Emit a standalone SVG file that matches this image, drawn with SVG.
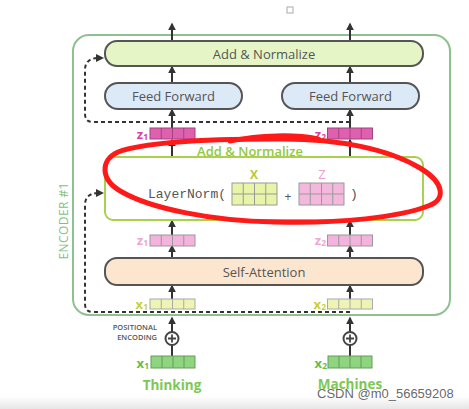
<svg xmlns="http://www.w3.org/2000/svg" width="469" height="409" viewBox="0 0 469 409">
<defs>
<marker id="ah" viewBox="0 0 10 10" refX="8" refY="5" markerWidth="4" markerHeight="4" orient="auto" markerUnits="strokeWidth">
<path d="M0,0 L10,5 L0,10 Z" fill="#333"/>
</marker>
<linearGradient id="bot" x1="0" y1="0" x2="0" y2="1"><stop offset="0" stop-color="#ffffff"/><stop offset="1" stop-color="#e6e6e6"/></linearGradient>
<style>
.box{stroke:#555;stroke-width:2}
.lbl{font-family:"Open Sans","Liberation Sans",sans-serif;font-size:13px;fill:#555;text-anchor:middle;dominant-baseline:central}
.arr{stroke:#333;stroke-width:2;fill:none;marker-end:url(#ah)}
.dash{stroke:#333;stroke-width:2;stroke-dasharray:4 3;fill:none}
.cell{stroke:#999;stroke-width:1}
.sub{font-family:"Open Sans","Liberation Sans",sans-serif;font-weight:700;font-size:13px;text-anchor:end;dominant-baseline:central}
.sub tspan{font-size:8.5px}
</style>
</defs>
<rect x="0" y="396" width="469" height="13" fill="url(#bot)"/>
<rect x="287" y="7" width="6" height="6" fill="none" stroke="#aaa" stroke-width="1"/>

<g id="encoder">
<rect x="73" y="35" width="377" height="280" rx="16" fill="none" stroke="#8fc08f" stroke-width="2"/>
<text transform="translate(63,221) rotate(-90)" text-anchor="middle" dominant-baseline="central" font-family="Open Sans, Liberation Sans, sans-serif" font-size="12" textLength="77" fill="#7fbf7f">ENCODER #1</text>
</g>

<g id="connectors">
<line class="arr" x1="172" y1="41" x2="172" y2="24"/>
<line class="arr" x1="350" y1="41" x2="350" y2="24"/>
<line class="arr" x1="172" y1="83" x2="172" y2="67"/>
<line class="arr" x1="350" y1="83" x2="350" y2="67"/>
<line class="arr" x1="172" y1="128" x2="172" y2="110"/>
<line class="arr" x1="350" y1="128" x2="350" y2="110"/>
<line class="arr" x1="172" y1="157" x2="172" y2="140"/>
<line class="arr" x1="350" y1="157" x2="350" y2="140"/>
<line class="arr" x1="172" y1="235" x2="172" y2="221"/>
<line class="arr" x1="350" y1="235" x2="350" y2="221"/>
<line class="arr" x1="172" y1="258" x2="172" y2="246"/>
<line class="arr" x1="350" y1="258" x2="350" y2="246"/>
<line class="arr" x1="172" y1="299" x2="172" y2="286"/>
<line class="arr" x1="350" y1="299" x2="350" y2="286"/>
<line class="arr" x1="172" y1="332" x2="172" y2="318"/>
<line class="arr" x1="350" y1="332" x2="350" y2="318"/>
<line x1="172" y1="356" x2="172" y2="345" stroke="#333" stroke-width="2"/>
<line x1="350" y1="356" x2="350" y2="345" stroke="#333" stroke-width="2"/>
<path class="dash" d="M350,122 H93 Q85,122 85,114 V70 Q85,59 97,58"/>
<path d="M96,54 L104,58 L96,62 Z" fill="#333"/>
<path class="dash" d="M350,312 H93 Q85,312 85,304 V205 Q85,194 97,193"/>
<path d="M96,189 L104,193 L96,197 Z" fill="#333"/>
</g>

<g id="add-norm-top">
<rect class="box" x="105" y="41" width="318" height="25" rx="12" fill="#e6f5c6"/>
<text class="lbl" x="264" y="53.5">Add &amp; Normalize</text>
</g>
<g id="ff1">
<rect class="box" x="105" y="83" width="137" height="26" rx="13" fill="#dce9f7"/>
<text class="lbl" x="173.5" y="96">Feed Forward</text>
</g>
<g id="ff2">
<rect class="box" x="282" y="83" width="137" height="26" rx="13" fill="#dce9f7"/>
<text class="lbl" x="350.5" y="96">Feed Forward</text>
</g>

<g id="z1-top">
<text class="sub" x="148" y="134" fill="#d8409f">z<tspan dy="2">1</tspan></text>
<rect x="150" y="128" width="45" height="11" fill="#e060b0" stroke="#a04480" stroke-width="1"/>
<path d="M161.25,128V139M172.5,128V139M183.75,128V139" stroke="#a04480" stroke-width="1"/>
</g>
<g id="z2-top">
<text class="sub" x="326" y="134" fill="#d8409f">z<tspan dy="2">2</tspan></text>
<rect x="327.5" y="128" width="45" height="11" fill="#e060b0" stroke="#a04480" stroke-width="1"/>
<path d="M338.75,128V139M350,128V139M361.25,128V139" stroke="#a04480" stroke-width="1"/>
</g>

<g id="add-norm-mid">
<text x="250" y="151" text-anchor="middle" dominant-baseline="central" font-family="Open Sans, Liberation Sans, sans-serif" font-weight="600" font-size="13" fill="#93c83e">Add &amp; Normalize</text>
<rect x="105" y="157" width="318" height="63" rx="8" fill="#fff" stroke="#a8d14e" stroke-width="2"/>
<text x="148" y="194" dominant-baseline="central" font-family="Liberation Mono, DejaVu Sans Mono, monospace" font-size="13" fill="#555">LayerNorm(</text>
<text x="254" y="174" text-anchor="middle" dominant-baseline="central" font-family="Open Sans, Liberation Sans, sans-serif" font-weight="700" font-size="12" fill="#b8c832">X</text>
<rect x="232" y="183" width="45" height="22" fill="#e8f5a8" stroke="#999" stroke-width="1"/>
<path class="cell" d="M243.25,183V205M254.5,183V205M265.75,183V205M232,194H277"/>
<text x="288" y="196" text-anchor="middle" dominant-baseline="central" font-family="Open Sans, Liberation Sans, sans-serif" font-size="12" fill="#555">+</text>
<text x="322" y="174" text-anchor="middle" dominant-baseline="central" font-family="Open Sans, Liberation Sans, sans-serif" font-size="13" fill="#eaa0cc">Z</text>
<rect x="299" y="183" width="45" height="22" fill="#f3b8dc" stroke="#999" stroke-width="1"/>
<path class="cell" d="M310.25,183V205M321.5,183V205M332.75,183V205M299,194H344"/>
<text x="350" y="194" dominant-baseline="central" font-family="Liberation Mono, DejaVu Sans Mono, monospace" font-size="13" fill="#555">)</text>
</g>

<g id="z1-low">
<text class="sub" x="148" y="240" fill="#f0a4d0">z<tspan dy="2">1</tspan></text>
<rect x="150" y="235" width="45" height="11" fill="#f3b3dc" stroke="#999" stroke-width="1"/>
<path class="cell" d="M161.25,235V246M172.5,235V246M183.75,235V246"/>
</g>
<g id="z2-low">
<text class="sub" x="326" y="240" fill="#f0a4d0">z<tspan dy="2">2</tspan></text>
<rect x="327.5" y="235" width="45" height="11" fill="#f3b3dc" stroke="#999" stroke-width="1"/>
<path class="cell" d="M338.75,235V246M350,235V246M361.25,235V246"/>
</g>

<g id="self-attention">
<rect class="box" x="105" y="258" width="318" height="27" rx="12" fill="#fde6d0"/>
<text class="lbl" x="264" y="271.5">Self-Attention</text>
</g>

<g id="x1-in">
<text class="sub" x="148" y="304" fill="#c8cf3c">x<tspan dy="2">1</tspan></text>
<rect x="150" y="299" width="45" height="10" fill="#eef5b4" stroke="#aaa" stroke-width="1"/>
<path d="M161.25,299V309M172.5,299V309M183.75,299V309" stroke="#aaa" stroke-width="1"/>
</g>
<g id="x2-in">
<text class="sub" x="326" y="304" fill="#c8cf3c">x<tspan dy="2">2</tspan></text>
<rect x="327.5" y="299" width="45" height="10" fill="#eef5b4" stroke="#aaa" stroke-width="1"/>
<path d="M338.75,299V309M350,299V309M361.25,299V309" stroke="#aaa" stroke-width="1"/>
</g>

<g id="pos-enc">
<text x="157" y="327" text-anchor="end" dominant-baseline="central" font-family="Open Sans, Liberation Sans, sans-serif" font-weight="600" font-size="7.5" fill="#555">POSITIONAL</text>
<text x="157" y="337" text-anchor="end" dominant-baseline="central" font-family="Open Sans, Liberation Sans, sans-serif" font-weight="600" font-size="7.5" fill="#555">ENCODING</text>
<circle cx="172" cy="338.5" r="6.5" fill="#fff" stroke="#444" stroke-width="2"/>
<path d="M168,338.5H176M172,334.5V342.5" stroke="#444" stroke-width="1.8"/>
<circle cx="350" cy="338.5" r="6.5" fill="#fff" stroke="#444" stroke-width="2"/>
<path d="M346,338.5H354M350,334.5V342.5" stroke="#444" stroke-width="1.8"/>
</g>

<g id="x1-emb">
<text class="sub" x="149" y="363" fill="#64c040">x<tspan dy="2">1</tspan></text>
<rect x="151" y="356" width="44" height="12" fill="#8fd47e" stroke="#6a9a60" stroke-width="1"/>
<path d="M162,356V368M173,356V368M184,356V368" stroke="#6a9a60" stroke-width="1"/>
<text x="172" y="385" text-anchor="middle" dominant-baseline="central" font-family="Open Sans, Liberation Sans, sans-serif" font-weight="700" font-size="13.5" fill="#7dc855">Thinking</text>
</g>
<g id="x2-emb">
<text class="sub" x="327" y="363" fill="#64c040">x<tspan dy="2">2</tspan></text>
<rect x="328" y="356" width="44" height="12" fill="#8fd47e" stroke="#6a9a60" stroke-width="1"/>
<path d="M339,356V368M350,356V368M361,356V368" stroke="#6a9a60" stroke-width="1"/>
<text x="350" y="384" text-anchor="middle" dominant-baseline="central" font-family="Open Sans, Liberation Sans, sans-serif" font-weight="700" font-size="13.5" fill="#7dc855">Machines</text>
</g>

<g id="red-mark" fill="none" stroke="#ff1a1a" stroke-width="5" stroke-linecap="round" stroke-linejoin="round">
<path d="M275,139 C340,138 390,150 420,168 C445,183 446,200 428,206 C400,217 340,224 275,222 C210,221 150,208 122,192 C100,180 100,160 118,152 C145,142 210,139 275,139"/>
<path d="M230,141 C260,135 295,134 318,139"/>
</g>

<text x="317" y="398" font-family="Liberation Sans, Arial, sans-serif" font-size="13" fill="#555" fill-opacity="0.9">CSDN @m0_56659208</text>
</svg>
